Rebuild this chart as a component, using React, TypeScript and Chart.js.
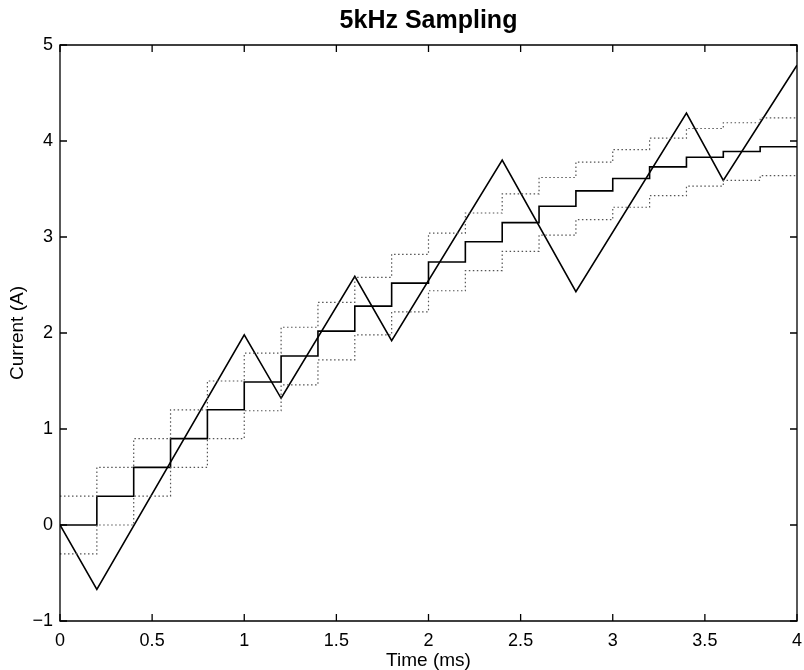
import React, { useEffect, useRef } from "react";
import { Chart, registerables } from "chart.js";

Chart.register(...registerables);

const TITLE = "5kHz Sampling";
const X_TITLE = "Time (ms)";
const Y_TITLE = "Current (A)";

// Sample instants (ms) of the staircase signals (last point closes the final step)
const STEP_T = [0, 0.2, 0.4, 0.6, 0.8, 1.0, 1.2, 1.4, 1.6, 1.8, 2.0, 2.2, 2.4, 2.6, 2.8, 3.0, 3.2, 3.4, 3.6, 3.8, 4.0];
// Sampled (held) current
const STAIR = [0, 0.30, 0.60, 0.90, 1.20, 1.49, 1.76, 2.02, 2.28, 2.52, 2.74, 2.95, 3.15, 3.32, 3.48, 3.61, 3.73, 3.83, 3.89, 3.94, 3.94];
// Upper and lower dotted bands
const UPPER = [0.30, 0.60, 0.90, 1.20, 1.50, 1.79, 2.06, 2.32, 2.58, 2.82, 3.04, 3.25, 3.45, 3.62, 3.78, 3.91, 4.03, 4.13, 4.19, 4.24, 4.24];
const LOWER = [-0.30, 0.00, 0.30, 0.60, 0.90, 1.19, 1.46, 1.72, 1.98, 2.22, 2.44, 2.65, 2.85, 3.02, 3.18, 3.31, 3.43, 3.53, 3.59, 3.64, 3.64];

// Actual (triangular) current
const TRI_T = [0, 0.2, 1.0, 1.2, 1.6, 1.8, 2.4, 2.8, 3.4, 3.6, 4.0];
const TRI_I = [0, -0.67, 1.98, 1.32, 2.59, 1.92, 3.80, 2.43, 4.29, 3.59, 4.79];

const X_TICKS = [0, 0.5, 1, 1.5, 2, 2.5, 3, 3.5, 4];
const X_TICK_LABELS = ["0", "0.5", "1", "1.5", "2", "2.5", "3", "3.5", "4"];
const Y_TICKS = [-1, 0, 1, 2, 3, 4, 5];
const Y_TICK_LABELS = ["\u22121", "0", "1", "2", "3", "4", "5"];

const FONT = "'Liberation Sans', Arial, Helvetica, sans-serif";

const pts = (xs: number[], ys: number[]) => xs.map((x, i) => ({ x, y: ys[i] }));

const framePlugin = {
  id: "frame",
  afterDraw(chart: any) {
    const { ctx, chartArea } = chart;
    const { left, right, top, bottom } = chartArea;
    const xs = chart.scales.x;
    const ys = chart.scales.y;
    const L = 7;
    ctx.save();
    ctx.strokeStyle = "#000";
    ctx.lineWidth = 1.3;
    ctx.beginPath();
    ctx.rect(left, top, right - left, bottom - top);
    ctx.stroke();
    ctx.beginPath();
    X_TICKS.forEach((v) => {
      const px = xs.getPixelForValue(v);
      ctx.moveTo(px, bottom);
      ctx.lineTo(px, bottom - L);
      ctx.moveTo(px, top);
      ctx.lineTo(px, top + L);
    });
    Y_TICKS.forEach((v) => {
      const py = ys.getPixelForValue(v);
      ctx.moveTo(left, py);
      ctx.lineTo(left + L, py);
      ctx.moveTo(right, py);
      ctx.lineTo(right - L, py);
    });
    ctx.stroke();
    // title centred over the plot area
    ctx.fillStyle = "#000";
    ctx.font = `bold 25px ${FONT}`;
    ctx.textAlign = "center";
    ctx.textBaseline = "middle";
    ctx.fillText(TITLE, (left + right) / 2, 21);
    ctx.restore();
  },
};

export default function App() {
  const ref = useRef<HTMLCanvasElement | null>(null);

  useEffect(() => {
    if (!ref.current) return;
    const chart = new Chart(ref.current, {
      type: "line",
      data: {
        datasets: [
          {
            data: pts(STEP_T, UPPER),
            stepped: "before",
            borderColor: "#555",
            borderWidth: 1.2,
            borderDash: [1.5, 2.5],
            pointRadius: 0,
            fill: false,
          },
          {
            data: pts(STEP_T, LOWER),
            stepped: "before",
            borderColor: "#555",
            borderWidth: 1.2,
            borderDash: [1.5, 2.5],
            pointRadius: 0,
            fill: false,
          },
          {
            data: pts(STEP_T, STAIR),
            stepped: "before",
            borderColor: "#000",
            borderWidth: 1.6,
            pointRadius: 0,
            fill: false,
          },
          {
            data: pts(TRI_T, TRI_I),
            borderColor: "#000",
            borderWidth: 1.6,
            pointRadius: 0,
            tension: 0,
            fill: false,
          },
        ],
      },
      options: {
        animation: false,
        responsive: false,
        maintainAspectRatio: false,
        events: [],
        layout: { padding: { top: 45, right: 7, left: 0, bottom: 0 } },
        plugins: {
          legend: { display: false },
          tooltip: { enabled: false },
          title: { display: false },
        },
        scales: {
          x: {
            type: "linear",
            min: 0,
            max: 4,
            grid: { display: false, drawTicks: false },
            border: { display: false },
            afterBuildTicks: (s: any) => {
              s.ticks = X_TICKS.map((v) => ({ value: v }));
            },
            afterFit: (s: any) => {
              s.height = 49;
              s.paddingLeft = 0;
              s.paddingRight = 0;
            },
            ticks: {
              color: "#000",
              padding: 9,
              maxRotation: 0,
              autoSkip: false,
              font: { family: FONT, size: 18 },
              callback: (_v: any, i: number) => X_TICK_LABELS[i],
            },
            title: {
              display: true,
              text: X_TITLE,
              color: "#000",
              font: { family: FONT, size: 19, lineHeight: 1 },
              padding: { top: 0, bottom: 0 },
            },
          },
          y: {
            type: "linear",
            min: -1,
            max: 5,
            grid: { display: false, drawTicks: false },
            border: { display: false },
            afterBuildTicks: (s: any) => {
              s.ticks = Y_TICKS.map((v) => ({ value: v }));
            },
            afterFit: (s: any) => {
              s.width = 60;
              s.paddingTop = 0;
              s.paddingBottom = 0;
            },
            ticks: {
              color: "#000",
              padding: 7,
              autoSkip: false,
              font: { family: FONT, size: 18 },
              callback: (_v: any, i: number) => Y_TICK_LABELS[i],
            },
            title: {
              display: true,
              text: Y_TITLE,
              color: "#000",
              font: { family: FONT, size: 19, lineHeight: 1 },
              padding: { top: 8, bottom: 0 },
            },
          },
        },
      },
      plugins: [framePlugin],
    });
    return () => chart.destroy();
  }, []);

  return (
    <div style={{ position: "absolute", left: 0, top: 0, width: 804, height: 670, background: "#fff" }}>
      <canvas ref={ref} width={804} height={670} style={{ width: 804, height: 670, display: "block" }} />
    </div>
  );
}
